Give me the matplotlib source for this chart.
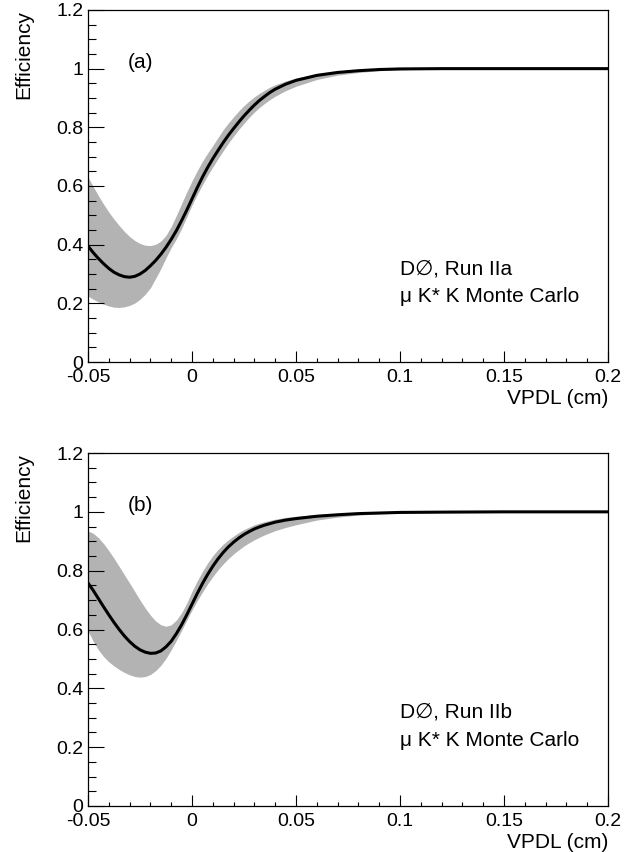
import numpy as np
import matplotlib
matplotlib.use("Agg")
import matplotlib.pyplot as plt
from matplotlib.ticker import MultipleLocator, FormatStrFormatter

plt.rcParams['font.family'] = ['Liberation Sans', 'DejaVu Sans']

# VPDL grid (cm)
vpdl = [-0.05, -0.0475, -0.045, -0.0425, -0.04, -0.0375, -0.035, -0.0325, -0.03, -0.0275,
        -0.025, -0.0225, -0.02, -0.0175, -0.015, -0.0125, -0.01, -0.0075, -0.005, -0.0025,
        0.0, 0.0025, 0.005, 0.0075, 0.01, 0.0125, 0.015, 0.0175, 0.02, 0.0225,
        0.025, 0.0275, 0.03, 0.0325, 0.035, 0.0375, 0.04,
        0.045, 0.05, 0.06, 0.07, 0.08, 0.09, 0.1, 0.12, 0.15, 0.2]

# (a) Run IIa
eff_a = [0.395, 0.373, 0.353, 0.335, 0.319, 0.306, 0.297, 0.291, 0.289, 0.292,
         0.300, 0.312, 0.328, 0.346, 0.367, 0.391, 0.418, 0.448, 0.482, 0.518,
         0.556, 0.594, 0.630, 0.663, 0.693, 0.721, 0.748, 0.773, 0.796, 0.818,
         0.839, 0.858, 0.876, 0.892, 0.906, 0.919, 0.930,
         0.947, 0.960, 0.977, 0.987, 0.993, 0.997, 0.999, 1.0, 1.0, 1.0]
hi_a = [0.630, 0.598, 0.567, 0.538, 0.511, 0.487, 0.465, 0.445, 0.428, 0.414,
        0.404, 0.398, 0.397, 0.401, 0.412, 0.432, 0.462, 0.500, 0.540, 0.580,
        0.617, 0.652, 0.684, 0.712, 0.738, 0.765, 0.792, 0.815, 0.836, 0.856,
        0.874, 0.890, 0.904, 0.916, 0.927, 0.937, 0.945,
        0.958, 0.968, 0.983, 0.991, 0.995, 0.998, 0.999, 1.0, 1.0, 1.0]
lo_a = [0.225, 0.214, 0.205, 0.197, 0.191, 0.187, 0.186, 0.188, 0.193, 0.201,
        0.214, 0.231, 0.253, 0.285, 0.318, 0.355, 0.390, 0.420, 0.455, 0.495,
        0.535, 0.571, 0.604, 0.636, 0.665, 0.693, 0.720, 0.746, 0.770, 0.793,
        0.814, 0.834, 0.852, 0.868, 0.882, 0.895, 0.906,
        0.925, 0.940, 0.963, 0.978, 0.987, 0.993, 0.996, 0.999, 1.0, 1.0]

# (b) Run IIb
eff_b = [0.758, 0.733, 0.705, 0.677, 0.650, 0.624, 0.600, 0.578, 0.559, 0.543,
         0.531, 0.523, 0.519, 0.520, 0.527, 0.541, 0.560, 0.586, 0.616, 0.650,
         0.686, 0.722, 0.756, 0.787, 0.815, 0.840, 0.862, 0.881, 0.897, 0.911,
         0.923, 0.933, 0.942, 0.949, 0.955, 0.960, 0.965,
         0.972, 0.977, 0.985, 0.990, 0.994, 0.996, 0.998, 0.999, 1.0, 1.0]
hi_b = [0.935, 0.927, 0.912, 0.892, 0.868, 0.842, 0.814, 0.786, 0.758, 0.729,
        0.700, 0.673, 0.649, 0.629, 0.616, 0.611, 0.616, 0.632, 0.657, 0.690,
        0.730, 0.765, 0.797, 0.826, 0.851, 0.872, 0.890, 0.905, 0.918, 0.930,
        0.940, 0.948, 0.956, 0.962, 0.967, 0.971, 0.975,
        0.981, 0.985, 0.991, 0.994, 0.996, 0.998, 0.999, 1.0, 1.0, 1.0]
lo_b = [0.595, 0.560, 0.531, 0.508, 0.490, 0.476, 0.464, 0.454, 0.446, 0.440,
        0.438, 0.440, 0.447, 0.460, 0.478, 0.502, 0.531, 0.563, 0.597, 0.632,
        0.666, 0.698, 0.727, 0.755, 0.780, 0.803, 0.823, 0.841, 0.857, 0.871,
        0.884, 0.895, 0.905, 0.914, 0.922, 0.929, 0.936,
        0.947, 0.956, 0.972, 0.982, 0.989, 0.993, 0.996, 0.998, 0.999, 1.0]

panels = [("(a)", "D\u2205, Run IIa", eff_a, lo_a, hi_a),
          ("(b)", "D\u2205, Run IIb", eff_b, lo_b, hi_b)]

fig = plt.figure(figsize=(6.34, 8.52), dpi=100)
rects = [[0.1388, 0.5751, 0.8202, 0.4132],
         [0.1388, 0.0540, 0.8202, 0.4143]]

for rect, (tag, run, eff, lo, hi) in zip(rects, panels):
    ax = fig.add_axes(rect)
    ax.fill_between(vpdl, lo, hi, color='#b3b3b3', lw=0)
    ax.plot(vpdl, eff, color='black', lw=2.2, solid_joinstyle='round')
    ax.set_xlim(-0.05, 0.2)
    ax.set_ylim(0, 1.2)

    ax.xaxis.set_major_locator(MultipleLocator(0.05))
    ax.xaxis.set_minor_locator(MultipleLocator(0.01))
    ax.yaxis.set_major_locator(MultipleLocator(0.2))
    ax.yaxis.set_minor_locator(MultipleLocator(0.05))
    ax.xaxis.set_major_formatter(FormatStrFormatter('%g'))
    ax.yaxis.set_major_formatter(FormatStrFormatter('%g'))
    ax.tick_params(which='both', direction='in', top=False, right=False,
                   labelsize=14, width=0.8)
    ax.tick_params(axis='x', which='major', length=7.7, pad=5.0)
    ax.tick_params(axis='x', which='minor', length=3.2)
    ax.tick_params(axis='y', which='major', length=11.5, pad=3.5)
    ax.tick_params(axis='y', which='minor', length=5.8)
    for sp in ax.spines.values():
        sp.set_linewidth(0.9)

    ax.set_ylabel('Efficiency', loc='top', fontsize=15)
    ax.yaxis.set_label_coords(-0.106, 1.0)
    ax.set_xlabel('VPDL (cm)', loc='right', fontsize=15)
    ax.xaxis.set_label_coords(1.0, -0.076)

    ax.text(-0.031, 1.02, tag, fontsize=15, va='center', ha='left')
    ax.text(0.1, 0.318, run, fontsize=15, va='center', ha='left')
    ax.text(0.1, 0.222, "\u03bc K* K Monte Carlo", fontsize=15, va='center', ha='left')

fig.savefig('out.png', dpi=100)
